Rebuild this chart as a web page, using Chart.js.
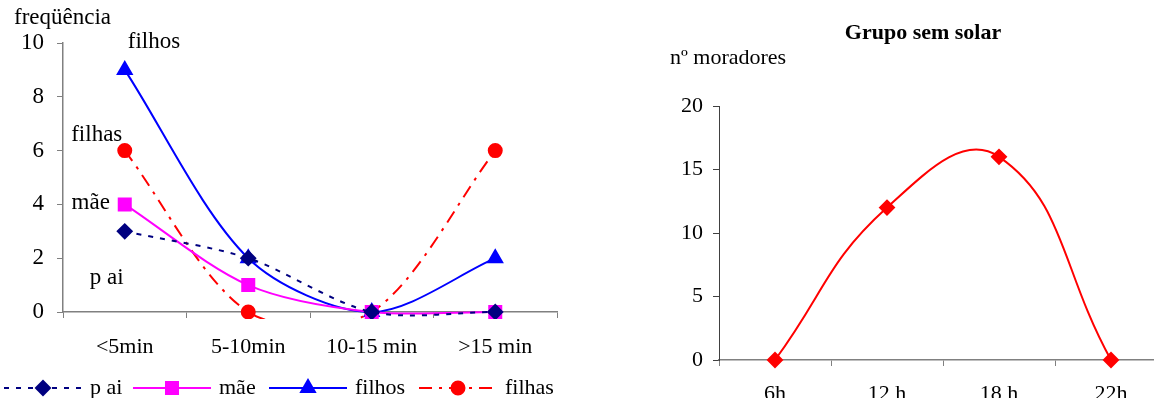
<!DOCTYPE html>
<html>
<head>
<meta charset="utf-8">
<script src="https://cdn.jsdelivr.net/npm/chart.js@4.4.0/dist/chart.umd.min.js"></script>
<style>
html, body { margin: 0; padding: 0; background: #fff; overflow: hidden; width: 1154px; height: 398px; }
#left { position: absolute; left: 0; top: 0; }
#right { position: absolute; left: 650px; top: 0; }
</style>
</head>
<body>
<canvas id="left" width="580" height="398"></canvas>
<canvas id="right" width="530" height="430"></canvas>
<script>
// dados do grafico da esquerda
const tempos = ['<5min', '5-10min', '10-15 min', '>15 min'];
const pai = [3, 2, 0, 0];
const mae = [4, 1, 0, 0];
const filhos = [9, 2, 0, 2];
const filhas = [6, 0, 0, 6];
const ticksFreq = [0, 2, 4, 6, 8, 10];

// dados do grafico da direita
const horas = ['6h', '12 h', '18 h', '22h'];
const moradores = [0, 12, 16, 0];

Chart.defaults.font.family = "'Liberation Serif', 'Times New Roman', serif";
Chart.defaults.color = '#000';
Chart.defaults.animation = false;

const clipBaixo = { left: 12, top: 12, right: 12, bottom: 7 };

// textos soltos dentro do grafico
const textosPlugin = {
    id: 'textos',
    afterDraw(chart) {
        const ctx = chart.ctx;
        const xs = chart.scales.x, ys = chart.scales.y;
        ctx.save();
        ctx.fillStyle = '#000';
        ctx.font = "23px 'Liberation Serif'";
        ctx.textBaseline = 'middle';
        ctx.textAlign = 'left';
        ctx.fillText('freqüência', 14, 18);
        const x0 = xs.getPixelForValue(0);
        ctx.fillText('filhos', x0 + 3, ys.getPixelForValue(filhos[0]) - 28);
        ctx.textAlign = 'center';
        ctx.fillText('filhas', x0 - 28, ys.getPixelForValue(filhas[0]) - 16);
        ctx.fillText('mãe', x0 - 34, ys.getPixelForValue(mae[0]) - 1);
        ctx.fillText('p ai', x0 - 18, ys.getPixelForValue(pai[0]) + 47);
        ctx.restore();
    }
};

// legenda com linha + marcador, como no Excel
const legendaPlugin = {
    id: 'legenda',
    afterDraw(chart) {
        const ctx = chart.ctx;
        const inicio = [4, 133, 269, 419];
        const y = 388;
        ctx.save();
        chart.data.datasets.forEach((ds, i) => {
            const x = inicio[i];
            ctx.strokeStyle = ds.borderColor;
            ctx.lineWidth = ds.borderWidth;
            ctx.setLineDash(ds.borderDash || []);
            ctx.beginPath();
            ctx.moveTo(x, y);
            ctx.lineTo(x + 78, y);
            ctx.stroke();
            ctx.setLineDash([]);
            ctx.fillStyle = ds.pointBackgroundColor;
            ctx.strokeStyle = ds.pointBorderColor;
            Chart.helpers.drawPoint(ctx, { pointStyle: ds.pointStyle, radius: ds.pointRadius, rotation: 0, borderWidth: 1 }, x + 39, y);
            ctx.fillStyle = '#000';
            ctx.font = "22px 'Liberation Serif'";
            ctx.textBaseline = 'middle';
            ctx.textAlign = 'left';
            ctx.fillText(ds.label === 'pai' ? 'p ai' : ds.label, x + 86, y);
        });
        ctx.restore();
    }
};

new Chart(document.getElementById('left'), {
    type: 'line',
    data: {
        labels: tempos,
        datasets: [
            { label: 'pai', data: pai, borderColor: '#000080', borderWidth: 2, borderDash: [5, 7],
              pointStyle: 'rectRot', pointRadius: 7, pointBackgroundColor: '#000080', pointBorderColor: '#000080', clip: clipBaixo },
            { label: 'mãe', data: mae, borderColor: '#FF00FF', borderWidth: 2,
              pointStyle: 'rect', pointRadius: 8.5, pointBackgroundColor: '#FF00FF', pointBorderColor: '#FF00FF', clip: clipBaixo },
            { label: 'filhos', data: filhos, borderColor: '#0000FF', borderWidth: 2,
              pointStyle: 'triangle', pointRadius: 8, pointBackgroundColor: '#0000FF', pointBorderColor: '#0000FF', clip: clipBaixo },
            { label: 'filhas', data: filhas, borderColor: '#FF0000', borderWidth: 2, borderDash: [13, 7, 3, 7],
              pointStyle: 'circle', pointRadius: 6.5, pointBackgroundColor: '#FF0000', pointBorderColor: '#FF0000', clip: clipBaixo }
        ]
    },
    options: {
        responsive: false,
        elements: { line: { tension: 0.3, capBezierPoints: false } },
        layout: { padding: { top: 43, right: 23, left: 0, bottom: 0 } },
        plugins: { legend: { display: false }, tooltip: { enabled: false } },
        scales: {
            x: {
                offset: true,
                afterFit: s => { s.height = 86; },
                grid: { offset: true, drawOnChartArea: false, tickLength: 6, color: '#808080' },
                border: { color: '#808080', width: 1.5 },
                ticks: { font: { size: 22 }, padding: 16, maxRotation: 0 }
            },
            y: {
                min: 0, max: 10,
                afterFit: s => { s.width = 63; },
                afterBuildTicks: s => { s.ticks = ticksFreq.map(v => ({ value: v })); },
                grid: { drawOnChartArea: false, tickLength: 6, color: '#808080' },
                border: { color: '#808080', width: 1.5 },
                ticks: { font: { size: 23 }, padding: 13 }
            }
        }
    },
    plugins: [textosPlugin, legendaPlugin]
});

const textosDireita = {
    id: 'textosDireita',
    afterDraw(chart) {
        const ctx = chart.ctx;
        ctx.save();
        ctx.fillStyle = '#000';
        ctx.textBaseline = 'middle';
        ctx.textAlign = 'center';
        ctx.font = "bold 22px 'Liberation Serif'";
        ctx.fillText('Grupo sem solar', 273, 33);
        ctx.textAlign = 'left';
        ctx.font = "22px 'Liberation Serif'";
        ctx.fillText('nº moradores', 20, 58);
        ctx.restore();
    }
};

new Chart(document.getElementById('right'), {
    type: 'line',
    data: {
        labels: horas,
        datasets: [
            { label: 'Grupo sem solar', data: moradores, borderColor: '#FF0000', borderWidth: 2,
              pointStyle: 'rectRot', pointRadius: 7, pointBackgroundColor: '#FF0000', pointBorderColor: '#FF0000',
              clip: false }
        ]
    },
    options: {
        responsive: false,
        elements: { line: { tension: 0.45, capBezierPoints: false } },
        layout: { padding: { top: 106, right: 13, left: 0, bottom: 0 } },
        plugins: { legend: { display: false }, tooltip: { enabled: false } },
        scales: {
            x: {
                offset: true,
                afterFit: s => { s.height = 70; },
                grid: { offset: true, drawOnChartArea: false, tickLength: 6, color: '#808080' },
                border: { color: '#808080', width: 1.5 },
                ticks: { font: { size: 22 }, padding: 15, maxRotation: 0 }
            },
            y: {
                min: 0, max: 20,
                afterFit: s => { s.width = 69; },
                ticks: { stepSize: 5, font: { size: 22 }, padding: 10 },
                grid: { drawOnChartArea: false, tickLength: 6, color: '#404040' },
                border: { color: '#404040', width: 1 }
            }
        }
    },
    plugins: [textosDireita]
});
</script>
</body>
</html>
